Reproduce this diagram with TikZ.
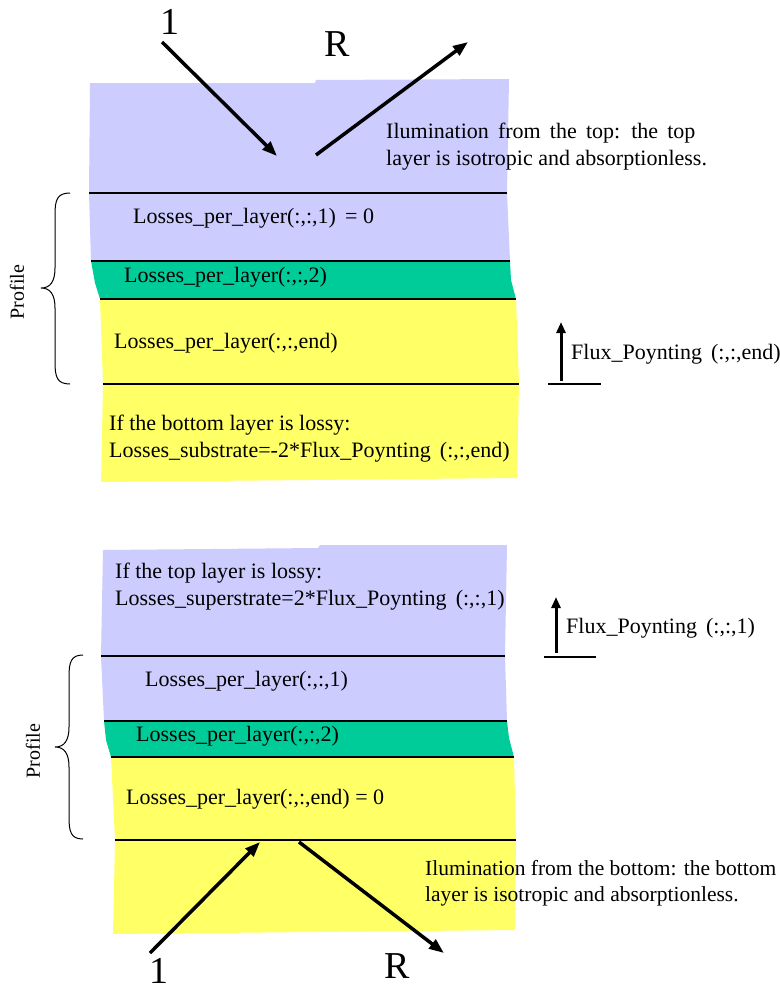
\documentclass[tikz,border=0pt]{standalone}
\usepackage{fontspec}
\setmainfont{Liberation Serif}
\usetikzlibrary{arrows.meta}
\definecolor{lav}{RGB}{204,204,255}
\definecolor{grn}{RGB}{0,204,153}
\definecolor{yel}{RGB}{255,255,102}
\tikzset{
  lbl/.style={anchor=west, inner sep=0pt, font=\fontsize{22}{27}\selectfont, align=left},
  lbls/.style={anchor=west, inner sep=0pt, font=\fontsize{21.5}{26.5}\selectfont, align=left},
  big/.style={inner sep=0pt, font=\fontsize{38}{38}\selectfont},
  prof/.style={inner sep=0pt, rotate=90, font=\fontsize{20}{20}\selectfont},
  sepline/.style={line width=1.3pt},
  ray/.style={line width=3.5pt, -{Triangle[length=15pt,width=11pt]}},
  flux/.style={line width=3pt, -{Triangle[length=11pt,width=9pt]}},
  bracepath/.style={line width=1pt},
}
\begin{document}
\begin{tikzpicture}[x=1pt,y=-1pt]
\useasboundingbox[fill=white] (0,0) rectangle (779,993);

% ---------------- top diagram ----------------
\fill[lav] (90,83) -- (315,83) -- (316,80) -- (509,79) -- (507,193) -- (510,261) -- (91,261) -- (89,193) -- cycle;
\fill[grn] (91,261) -- (510,261) -- (511,280) -- (516,299) -- (100,299) -- (95,283) -- cycle;
\fill[yel] (100,299) -- (516,299) -- (519,384) -- (517,478) -- (101,482) -- (103,384) -- cycle;
\draw[sepline] (89,193) -- (507,193);
\draw[sepline] (91,261) -- (510,261);
\draw[sepline] (100,299) -- (516,299);
\draw[sepline] (103,384) -- (519,384);

\node[big] (one1) at (170,22) {1};
\node[big] (r1) at (337,44) {R};
\coordinate (i1s) at (162,42);
\coordinate (i1e) at (277,156);
\coordinate (r1s) at (316,155);
\coordinate (r1e) at (468,42);
\draw[ray] (i1s) -- (i1e);
\draw[ray] (r1s) -- (r1e);

\node[lbl] (ill1) at (386,146.5) {Ilumination\, from\, the\, top:\, the\, top\\layer is isotropic and absorptionless.};
\node[lbl] (l11) at (133,218) {Losses\_per\_layer(:,:,1)\, = 0};
\node[lbl] (l12) at (124,277) {Losses\_per\_layer(:,:,2)};
\node[lbl] (l1e) at (114,343) {Losses\_per\_layer(:,:,end)};
\node[lbl] (sub1) at (109,439) {If the bottom layer is lossy:\\Losses\_substrate=-2*Flux\_Poynting\, (:,:,end)};

\draw[bracepath] (70,193) .. controls (57,193) and (55,200) .. (55,215) -- (55,268)
  .. controls (55,282) and (50,288) .. (41,288)
  .. controls (50,288) and (55,294) .. (55,308) -- (55,362)
  .. controls (55,377) and (57,384) .. (70,384);
\node[prof] (p1) at (17,292) {Profile};

\coordinate (f1s) at (561,381);
\coordinate (f1e) at (561,322);
\coordinate (b1a) at (548,384);
\coordinate (b1b) at (601,384);
\draw[flux] (f1s) -- (f1e);
\draw[sepline] (b1a) -- (b1b);
\node[lbl] (ft1) at (571,354) {Flux\_Poynting\, (:,:,end)};

% ---------------- bottom diagram ----------------
\fill[lav] (103,550) -- (318,548) -- (320,545) -- (507,545) -- (505,656) -- (507,721) -- (104,721) -- (101,656) -- cycle;
\fill[grn] (104,721) -- (507,721) -- (509,738) -- (514,757) -- (111,757) -- (106,740) -- cycle;
\fill[yel] (111,757) -- (514,757) -- (516,840) -- (515,930) -- (113,934) -- (115,840) -- cycle;
\draw[sepline] (101,656) -- (505,656);
\draw[sepline] (104,721) -- (507,721);
\draw[sepline] (111,757) -- (514,757);
\draw[sepline] (115,840) -- (516,840);

\node[lbl] (sup2) at (115,587) {If the top layer is lossy:\\Losses\_superstrate=2*Flux\_Poynting\, (:,:,1)};
\node[lbl] (l21) at (145,681) {Losses\_per\_layer(:,:,1)};
\node[lbl] (l22) at (136,736) {Losses\_per\_layer(:,:,2)};
\node[lbl] (l2e) at (126,799) {Losses\_per\_layer(:,:,end) = 0};
\node[lbls] (ill2) at (425,883) {Ilumination from the bottom: the bottom\\layer is isotropic and absorptionless.};

\draw[bracepath] (83,655) .. controls (71,655) and (69,662) .. (69,677) -- (69,727)
  .. controls (69,741) and (64,747) .. (55,747)
  .. controls (64,747) and (69,753) .. (69,767) -- (69,817)
  .. controls (69,832) and (71,839) .. (83,839);
\node[prof] (p2) at (33,751) {Profile};

\coordinate (i2s) at (150,953);
\coordinate (i2e) at (260,842);
\coordinate (r2s) at (299,842);
\coordinate (r2e) at (444,953);
\draw[ray] (i2s) -- (i2e);
\draw[ray] (r2s) -- (r2e);
\node[big] (one2) at (159,971) {1};
\node[big] (r2) at (397,966) {R};

\coordinate (f2s) at (556,653);
\coordinate (f2e) at (556,597);
\coordinate (b2a) at (544,657);
\coordinate (b2b) at (596,657);
\draw[flux] (f2s) -- (f2e);
\draw[sepline] (b2a) -- (b2b);
\node[lbl] (ft2) at (566,628) {Flux\_Poynting\, (:,:,1)};
\end{tikzpicture}
\end{document}
